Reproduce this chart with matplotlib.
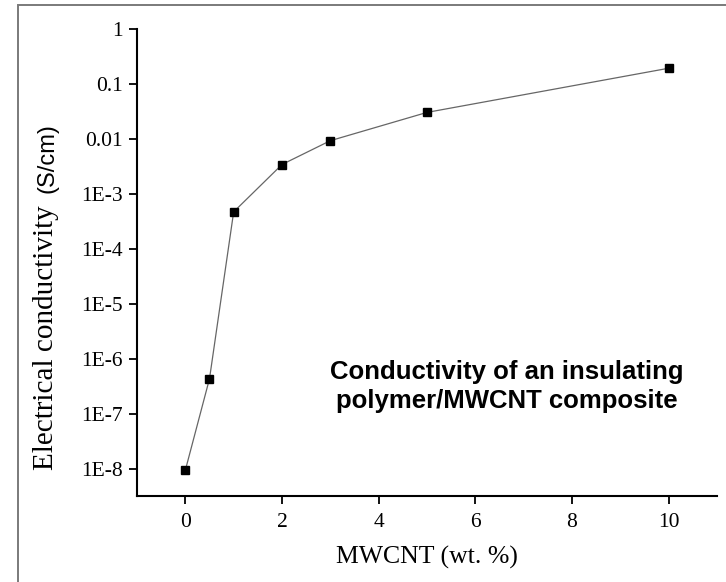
import matplotlib
matplotlib.use("Agg")
import matplotlib.pyplot as plt
from matplotlib.patches import Rectangle
from matplotlib.ticker import FixedLocator, FixedFormatter


mwcnt = [0, 0.5, 1, 2, 3, 5, 10]
conductivity = [9.6e-9, 4.4e-7, 4.7e-4, 3.4e-3, 9.2e-3, 0.030, 0.19]

y_ticks = [1e-8, 1e-7, 1e-6, 1e-5, 1e-4, 1e-3, 1e-2, 1e-1, 1]
y_tick_labels = ["1E-8", "1E-7", "1E-6", "1E-5", "1E-4", "1E-3", "0.01", "0.1", "1"]
x_ticks = [0, 2, 4, 6, 8, 10]

SERIF = "Liberation Serif"
SANS = "Liberation Sans"


def main():
    fig = plt.figure(figsize=(7.26, 5.82), dpi=100)
    W, H = 726, 582

    # outer frame of the original figure
    frame = Rectangle((18 / W, -0.1), 1.2, (H - 5) / H + 0.1,
                      transform=fig.transFigure, fill=False,
                      edgecolor="#7a7a7a", linewidth=1.4, clip_on=False)
    fig.patches.append(frame)

    ax = fig.add_axes([137 / W, 1 - 496 / H, (717 - 137) / W, (496 - 28.5) / H])
    ax.plot(mwcnt, conductivity, color="#666666", linewidth=0.9,
            marker="s", markersize=5.5, markerfacecolor="black",
            markeredgecolor="black")

    ax.set_yscale("log")
    ax.set_xlim(-1, 11)
    ax.set_ylim(10 ** -8.485, 1)
    ax.yaxis.set_major_locator(FixedLocator(y_ticks))
    ax.yaxis.set_major_formatter(FixedFormatter(y_tick_labels))
    ax.yaxis.set_minor_locator(FixedLocator([]))
    ax.set_xticks(x_ticks)
    ax.set_xticklabels([str(t) for t in x_ticks])

    for side in ["top", "right"]:
        ax.spines[side].set_visible(False)
    for side in ["left", "bottom"]:
        ax.spines[side].set_linewidth(1.5)

    ax.tick_params(axis="both", direction="out", length=6, width=1.3,
                   labelsize=15.5)
    ax.tick_params(axis="x", pad=6.5)
    ax.tick_params(axis="y", pad=4)
    for lab in ax.get_xticklabels() + ax.get_yticklabels():
        lab.set_fontfamily(SERIF)

    ax.set_xlabel("MWCNT (wt. %)", fontfamily=SERIF, fontsize=18.5, labelpad=10)

    # y label: serif part + sans part, stacked vertically
    fig.text(46 / W, 1 - 470 / H, "Electrical conductivity", rotation=90,
             fontfamily=SERIF, fontsize=21, ha="left", va="center",
             rotation_mode="anchor")
    fig.text(47 / W, 1 - 123 / H, "(S/cm)", rotation=90,
             fontfamily=SANS, fontsize=17, ha="right", va="center",
             rotation_mode="anchor")

    ax.text(6.65, 3.2e-7, "Conductivity of an insulating\npolymer/MWCNT composite",
            fontfamily=SANS, fontweight="bold", fontsize=18.5,
            ha="center", va="center", linespacing=1.25)

    fig.savefig("out.png", dpi=100)
    plt.close(fig)


if __name__ == "__main__":
    main()
